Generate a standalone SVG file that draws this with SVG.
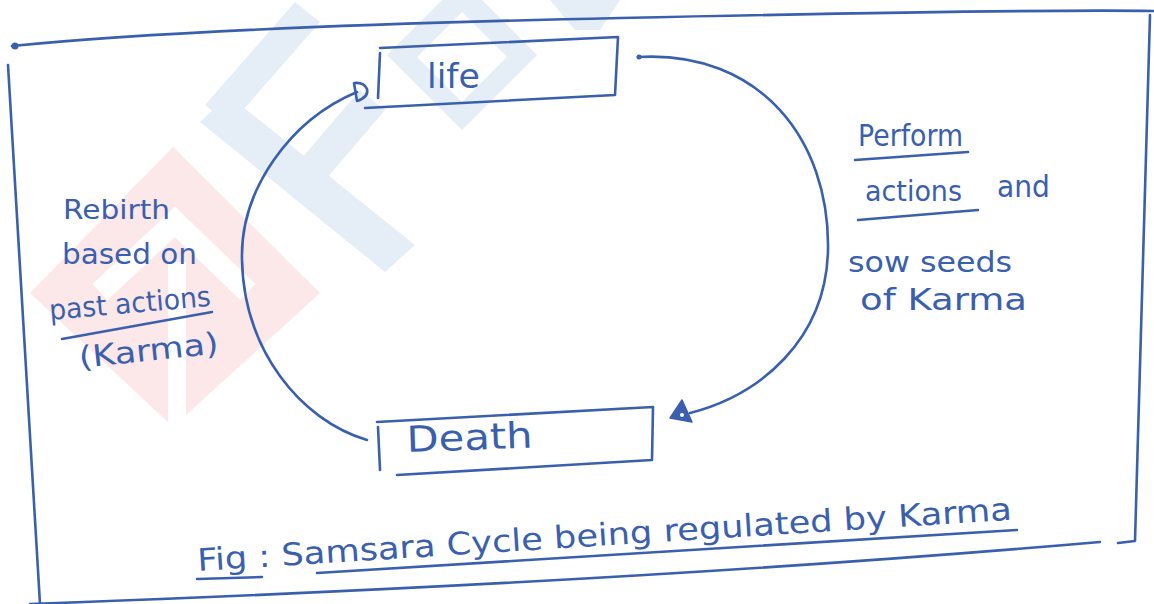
<svg xmlns="http://www.w3.org/2000/svg" width="1154" height="604" viewBox="0 0 1154 604">
<style>
.ink{fill:none;stroke:#3a60ad;stroke-width:2.6;stroke-linecap:round;stroke-linejoin:round}
.t{fill:#3a60ad;font-family:"DejaVu Sans","Liberation Sans",sans-serif;font-weight:normal}
.wb{fill:#e5eef7}
</style>
<rect width="1154" height="604" fill="#ffffff"/>
<g id="watermark">
<polygon points="173,147 320,293 173,427 30,293" fill="#fce8e9"/>
<polyline points="100,292 175,222 248,292" fill="none" stroke="#ffffff" stroke-width="22"/>
<line x1="177" y1="262" x2="177" y2="427" stroke="#ffffff" stroke-width="18"/>
<polygon class="wb" points="200,122 228,95 415,245 385,272"/>
<polygon class="wb" points="205,105 230,125 320,22 295,2"/>
<polygon class="wb" points="290,172 315,192 385,110 360,90"/>
<path class="wb" fill-rule="evenodd" d="M462,-20 L537,55 L462,130 L387,55 Z M462,12 L507,57 L462,102 L417,57 Z"/>
<polygon class="wb" points="550,0 620,0 600,30 575,30"/>
</g>
<g id="frame">
<path class="ink" d="M12,46 Q200,27 620,18 T1154,11"/>
<circle cx="15" cy="46" r="3.5" fill="#3a60ad"/>
<path class="ink" d="M8,65 L40,604"/>
<path class="ink" d="M1150,15 L1135,541 L1118,543"/>
<path class="ink" d="M30,604 Q640,582 1100,542"/>
</g>
<g id="node-life">
<path class="ink" d="M380,48 L618,37 L615,95 L365,108"/>
<path class="ink" d="M380,53 L378,98"/>
<text class="t" x="427" y="88" font-size="34" textLength="53" lengthAdjust="spacingAndGlyphs">life</text>
</g>
<g id="node-death">
<path class="ink" d="M377,422 L653,407 L652,460 L397,475"/>
<path class="ink" d="M378,427 L380,470"/>
<text class="t" x="407" y="452" font-size="36" textLength="126" lengthAdjust="spacingAndGlyphs" transform="rotate(-2 407 452)">Death</text>
</g>
<g id="connectors">
<path class="ink" d="M638,57 C760,50 830,140 828,250 C826,340 760,395 690,413"/>
<circle cx="639" cy="57" r="2.5" fill="#3a60ad"/>
<polygon points="682,400 670,418 692,422" fill="#3a60ad" stroke="#3a60ad" stroke-width="1.5" stroke-linejoin="round"/>
<circle cx="682" cy="415" r="2" fill="#ffffff"/>
<path class="ink" d="M357,92 C290,120 240,190 242,260 C244,350 300,420 367,440"/>
<path class="ink" d="M354,83 L357,101 Q369,97 367,89 Q364,82 354,83 Z"/>
</g>
<g id="label-left">
<text class="t" x="63" y="219" font-size="26" textLength="107" lengthAdjust="spacingAndGlyphs">Rebirth</text>
<text class="t" x="62" y="264" font-size="28" textLength="135" lengthAdjust="spacingAndGlyphs">based on</text>
<text class="t" x="50" y="320" font-size="28" textLength="162" lengthAdjust="spacingAndGlyphs" transform="rotate(-5 50 320)">past actions</text>
<path class="ink" d="M62,339 L212,312"/>
<text class="t" x="80" y="368" font-size="30" textLength="140" lengthAdjust="spacingAndGlyphs" transform="rotate(-6 80 368)">(Karma)</text>
</g>
<g id="label-right">
<text class="t" x="858" y="146" font-size="30" textLength="105" lengthAdjust="spacingAndGlyphs">Perform</text>
<path class="ink" d="M855,160 L968,152"/>
<text class="t" x="865" y="201" font-size="28" textLength="97" lengthAdjust="spacingAndGlyphs">actions</text>
<text class="t" x="997" y="197" font-size="30" textLength="53" lengthAdjust="spacingAndGlyphs">and</text>
<path class="ink" d="M858,220 L978,210"/>
<text class="t" x="848" y="272" font-size="28" textLength="164" lengthAdjust="spacingAndGlyphs">sow seeds</text>
<text class="t" x="860" y="310" font-size="30" textLength="167" lengthAdjust="spacingAndGlyphs">of Karma</text>
</g>
<g id="caption">
<text class="t" x="198" y="571" font-size="31" textLength="816" lengthAdjust="spacingAndGlyphs" transform="rotate(-3.6 198 571)">Fig : Samsara Cycle being regulated by Karma</text>
<path class="ink" d="M197,579 L262,577"/>
<path class="ink" d="M317,573 L1017,530"/>
</g>
</svg>
